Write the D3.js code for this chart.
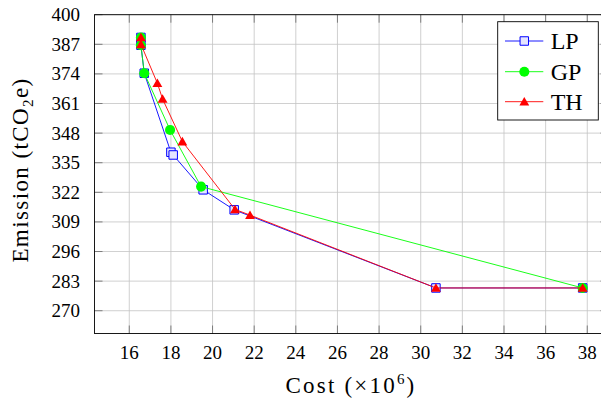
<!DOCTYPE html>
<html>
<head>
<meta charset="utf-8">
<script src="https://d3js.org/d3.v7.min.js"></script>
<style>
  @font-face { font-family: "ChartSerif"; src: local("Liberation Serif"), local("LiberationSerif"), local("LiberationSerif-Regular"); }
</style>
</head>
<body style="margin:0">
<script>
// data (cost in 1e6, emission in tCO2e)
const lpCost = [16.56, 16.56, 16.72, 18.0, 18.11, 19.55, 21.04, 30.73, 37.78];
const lpEmis = [390.0, 386.6, 374.3, 339.6, 338.4, 323.1, 314.3, 280.0, 280.0];
const gpCost = [16.56, 16.56, 16.72, 17.96, 19.45, 37.78];
const gpEmis = [390.0, 386.6, 374.3, 349.4, 324.5, 280.0];
const thCost = [16.56, 16.56, 17.35, 17.6, 18.55, 21.08, 21.8, 30.73, 37.78];
const thEmis = [390.0, 387.0, 369.9, 363.0, 344.3, 314.5, 312.0, 280.0, 280.0];
const xTicks = [16, 18, 20, 22, 24, 26, 28, 30, 32, 34, 36, 38];
const yTicks = [270, 283, 296, 309, 322, 335, 348, 361, 374, 387, 400];
const seriesNames = ["LP", "GP", "TH"];

const width = 601, height = 399;
const pLeft = 94.5, pRight = 608.5, pTop = 14.7, pBottom = 333.5;
const fontCss = '"Liberation Serif", "ChartSerif", "Times New Roman"';

const svg = d3.select("body").append("svg")
  .attr("width", width).attr("height", height);
svg.append("rect").attr("width", width).attr("height", height).attr("fill", "#fff");

const x = d3.scaleLinear().domain([14.33, 39.02]).range([pLeft, pRight]);
const y = d3.scaleLinear().domain([260, 400]).range([pBottom, pTop]);

// grid
xTicks.forEach(t => {
  svg.append("line").attr("x1", x(t)).attr("x2", x(t)).attr("y1", pTop).attr("y2", pBottom)
    .attr("stroke", "#c4c4c4").attr("stroke-width", 0.8);
});
yTicks.forEach(t => {
  svg.append("line").attr("x1", pLeft).attr("x2", pRight).attr("y1", y(t)).attr("y2", y(t))
    .attr("stroke", "#c4c4c4").attr("stroke-width", 0.8);
});

// inner ticks on all four sides
const tl = 8;
xTicks.forEach(t => {
  [[pBottom, pBottom - tl], [pTop, pTop + tl]].forEach(([a, b]) => {
    svg.append("line").attr("x1", x(t)).attr("x2", x(t)).attr("y1", a).attr("y2", b)
      .attr("stroke", "#666").attr("stroke-width", 0.8);
  });
});
yTicks.forEach(t => {
  [[pLeft, pLeft + tl], [pRight, pRight - tl]].forEach(([a, b]) => {
    svg.append("line").attr("x1", a).attr("x2", b).attr("y1", y(t)).attr("y2", y(t))
      .attr("stroke", "#666").attr("stroke-width", 0.8);
  });
});

// tick labels
xTicks.forEach(t => {
  svg.append("text").attr("x", x(t)).attr("y", 359)
    .attr("text-anchor", "middle")
    .style("font", `19px ${fontCss}`).text(t);
});
yTicks.forEach(t => {
  svg.append("text").attr("x", 80).attr("y", y(t) + 6.5)
    .attr("text-anchor", "end")
    .style("font", `19px ${fontCss}`).text(t);
});

// frame
svg.append("rect")
  .attr("x", pLeft).attr("y", pTop)
  .attr("width", pRight - pLeft).attr("height", pBottom - pTop)
  .attr("fill", "none").attr("stroke", "#000").attr("stroke-width", 0.9);

// markers
const sq = d3.symbol().type(d3.symbolSquare).size(72);
const ci = d3.symbol().type(d3.symbolCircle).size(80);
const tri = d3.symbol().type(d3.symbolTriangle).size(42);

const series = [
  { name: seriesNames[0], cost: lpCost, emis: lpEmis, color: "#0000ff", sym: sq, fill: "#e4e4ff", stroke: "#0000ff" },
  { name: seriesNames[1], cost: gpCost, emis: gpEmis, color: "#00ff00", sym: ci, fill: "#00ff00", stroke: "none" },
  { name: seriesNames[2], cost: thCost, emis: thEmis, color: "#ff0000", sym: tri, fill: "#ff0000", stroke: "none" }
];

const line = d3.line().x(d => x(d[0])).y(d => y(d[1]));

series.forEach(s => {
  const pts = s.cost.map((c, i) => [c, s.emis[i]]);
  svg.append("path").attr("d", line(pts))
    .attr("fill", "none").attr("stroke", s.color).attr("stroke-width", 0.9);
  pts.forEach(d => {
    svg.append("path").attr("d", s.sym)
      .attr("transform", `translate(${x(d[0])},${y(d[1]) + (s.sym === tri ? 1 : 0)})`)
      .attr("fill", s.fill).attr("stroke", s.stroke).attr("stroke-width", 1);
  });
});

// legend
svg.append("rect").attr("x", 497.7).attr("y", 21.7).attr("width", 100.6).attr("height", 98.3)
  .attr("fill", "#fff").attr("stroke", "#000").attr("stroke-width", 0.9);
const legY = [41, 71.7, 101.7];
series.forEach((s, i) => {
  svg.append("line").attr("x1", 505).attr("x2", 543.3).attr("y1", legY[i]).attr("y2", legY[i])
    .attr("stroke", s.color).attr("stroke-width", 0.9);
  svg.append("path").attr("d", s.sym)
    .attr("transform", `translate(524.3,${legY[i] + (s.sym === tri ? 1 : 0)})`)
    .attr("fill", s.fill).attr("stroke", s.stroke).attr("stroke-width", 1);
  svg.append("text").attr("x", 550.7).attr("y", legY[i] + 8)
    .style("font", `24px ${fontCss}`).text(s.name);
});

// axis titles
const xt = svg.append("text").attr("x", 351).attr("y", 393)
  .attr("text-anchor", "middle")
  .style("font", `23px ${fontCss}`).style("letter-spacing", "2.2px");
xt.append("tspan").text("Cost (\u00d710");
xt.append("tspan").attr("dy", -9).style("font-size", "15px").text("6");
xt.append("tspan").attr("dy", 9).text(")");

const yt = svg.append("text").attr("transform", "translate(28,170) rotate(-90)")
  .attr("text-anchor", "middle")
  .style("font", `23px ${fontCss}`).style("letter-spacing", "1.4px");
yt.append("tspan").text("Emission (tCO");
yt.append("tspan").attr("dy", 5).style("font-size", "15px").text("2");
yt.append("tspan").attr("dy", -5).text("e)");
</script>
</body>
</html>
